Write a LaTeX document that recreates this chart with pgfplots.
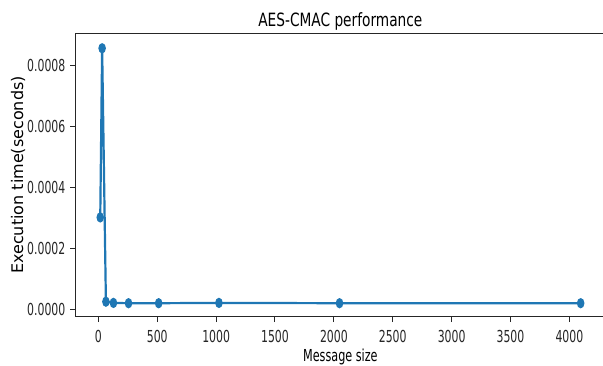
\documentclass[border=0pt]{standalone}
\usepackage{fontspec}
\setmainfont{DejaVu Sans}
\newfontfamily\tickfont{DejaVu Sans}[FakeStretch=0.66]
\newfontfamily\labfont{DejaVu Sans}[FakeStretch=0.68]
\newfontfamily\titfont{DejaVu Sans}[FakeStretch=0.75]
\usepackage{pgfplots}
\pgfplotsset{compat=1.18}
\definecolor{mplblue}{HTML}{1F77B4}
\pgfdeclareplotmark{oval}{%
  \pgfpathellipse{\pgfpointorigin}{\pgfqpoint{3.8pt}{0pt}}{\pgfqpoint{0pt}{5.2pt}}%
  \pgfusepathqfill}
\begin{document}
\begin{tikzpicture}
\useasboundingbox (-76pt,-48.3pt) rectangle (527pt,316.7pt);
\begin{axis}[
  scale only axis,
  width=528.7pt, height=283.4pt,
  at={(0,0)}, anchor=south west,
  xmin=-190, xmax=4300,
  ymin=-0.0000242, ymax=0.000904,
  xtick={0,500,1000,1500,2000,2500,3000,3500,4000},
  ytick={0,0.0002,0.0004,0.0006,0.0008},
  scaled y ticks=false,
  /pgf/number format/assume math mode=true,
  yticklabel style={/pgf/number format/fixed, /pgf/number format/fixed zerofill, /pgf/number format/precision=4},
  xticklabel style={/pgf/number format/set thousands separator={}},
  tick align=outside,
  major tick length=5.5pt,
  xtick pos=bottom, ytick pos=left,
  tick style={black!85, line width=1pt},
  axis line style={black!85, line width=1pt},
  every tick label/.append style={font=\fontsize{16.5}{19}\tickfont, text=black!85},
  xticklabel style={anchor=base, yshift=-20.7pt, inner sep=0pt},
  yticklabel style={inner sep=5pt},
  title={AES-CMAC performance},
  title style={at={(axis description cs:0.5,1)}, anchor=base, yshift=0.5pt, inner sep=0pt, font=\fontsize{18.3}{21}\titfont},
  xlabel={Message size},
  xlabel style={at={(axis description cs:0.5,0)}, anchor=base, yshift=-45pt, inner sep=0pt, font=\fontsize{16.5}{19}\labfont},
  ylabel={Execution time(seconds)},
  ylabel style={at={(axis description cs:-0.1002,0.5)}, anchor=base, inner sep=0pt, font=\fontsize{16}{19}\selectfont},
]
\addplot[color=mplblue, line width=2.2pt, mark=oval, mark options={fill=mplblue}] coordinates {
(16,0.000301)
(32,0.000855)
(64,0.000025)
(128,0.000021)
(256,0.000020)
(512,0.000020)
(1024,0.000021)
(2048,0.000020)
(4096,0.000020)
};
\end{axis}
\end{tikzpicture}
\end{document}
